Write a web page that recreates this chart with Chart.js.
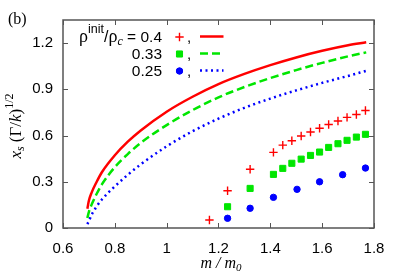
<!DOCTYPE html>
<html>
<head>
<meta charset="utf-8">
<script src="https://cdn.jsdelivr.net/npm/chart.js@4.4.1/dist/chart.umd.min.js"></script>
<style>
  body { margin: 0; background: #fff; }
  #wrap { width: 399px; height: 279px; }
</style>
</head>
<body>
<div id="wrap"><canvas id="plot" width="399" height="279"></canvas></div>
<script>
// tick labels
const xTicks = [0.6, 0.8, 1.0, 1.2, 1.4, 1.6, 1.8];
const yTicks = [0, 0.3, 0.6, 0.9, 1.2];

// continuous curves
const curveX     = [0.694, 0.70, 0.71, 0.73, 0.75, 0.80, 0.85, 0.90, 1.00, 1.10, 1.20, 1.30, 1.40, 1.50, 1.60, 1.70, 1.77];
const curveRed   = [0.125, 0.178, 0.228, 0.300, 0.362, 0.472, 0.560, 0.633, 0.755, 0.852, 0.934, 1.000, 1.057, 1.107, 1.150, 1.186, 1.205];
const curveGreen = [0.065, 0.105, 0.150, 0.222, 0.283, 0.395, 0.480, 0.552, 0.668, 0.765, 0.848, 0.915, 0.973, 1.025, 1.072, 1.114, 1.140];
const curveBlue  = [0.025, 0.045, 0.085, 0.140, 0.185, 0.270, 0.345, 0.413, 0.530, 0.628, 0.710, 0.780, 0.840, 0.893, 0.942, 0.987, 1.020];

// simulation points
const redX   = [1.165, 1.235, 1.322, 1.412, 1.448, 1.483, 1.519, 1.555, 1.590, 1.625, 1.661, 1.696, 1.732, 1.767];
const redY   = [0.052, 0.242, 0.381, 0.491, 0.538, 0.566, 0.597, 0.623, 0.647, 0.672, 0.694, 0.718, 0.737, 0.763];
const greenX = [1.235, 1.322, 1.412, 1.448, 1.483, 1.519, 1.555, 1.590, 1.625, 1.661, 1.696, 1.732, 1.767];
const greenY = [0.138, 0.257, 0.348, 0.387, 0.420, 0.447, 0.471, 0.493, 0.523, 0.547, 0.569, 0.590, 0.608];
const blueX  = [1.235, 1.322, 1.412, 1.503, 1.590, 1.679, 1.767];
const blueY  = [0.063, 0.128, 0.199, 0.251, 0.300, 0.346, 0.389];

const legendLabels = ['0.4', '0.33', '0.25'];

const RED = '#ff0000', GREEN = '#00e600', BLUE = '#0000ff';
const SANS = 'Liberation Sans', SERIF = 'Liberation Serif';

const pts = (xs, ys) => xs.map((x, i) => ({ x: x, y: ys[i] }));
const fmt = v => String(+(+v).toFixed(2));

const lineStyle = [
    { color: RED, dash: [] },
    { color: GREEN, dash: [8, 4] },
    { color: BLUE, dash: [2, 3.5] }
];
const markStyle = [
    { color: RED, style: 'cross', radius: 4.2, width: 1.4 },
    { color: GREEN, style: 'rect', radius: 4.3, width: 1 },
    { color: BLUE, style: 'circle', radius: 3.2, width: 1 }
];

const datasets = [];
[curveRed, curveGreen, curveBlue].forEach((ys, i) => {
    datasets.push({
        type: 'line',
        data: pts(curveX, ys),
        borderColor: lineStyle[i].color,
        borderDash: lineStyle[i].dash,
        borderWidth: 2.5,
        pointRadius: 0,
        cubicInterpolationMode: 'monotone',
        fill: false
    });
});
[[redX, redY], [greenX, greenY], [blueX, blueY]].forEach((d, i) => {
    const m = markStyle[i];
    datasets.push({
        type: 'scatter',
        data: pts(d[0], d[1]),
        pointStyle: m.style,
        pointRadius: m.radius,
        pointBorderWidth: m.width,
        borderColor: m.color,
        backgroundColor: m.color,
        showLine: false
    });
});

// draws a list of text runs starting at x, baseline y; returns width
function runs(ctx, parts, x, y, measureOnly) {
    let w = 0;
    parts.forEach(p => {
        ctx.font = p.f;
        if (!measureOnly) ctx.fillText(p.t, x + w, y + (p.dy || 0));
        w += ctx.measureText(p.t).width + (p.gap || 0);
    });
    return w;
}

const frame = {
    id: 'frame',
    afterDatasetsDraw(chart) {
        const ctx = chart.ctx, a = chart.chartArea;
        const xs = chart.scales.x, ys = chart.scales.y;
        const tl = 5;
        ctx.save();
        ctx.strokeStyle = '#555';
        ctx.lineWidth = 1.5;
        ctx.strokeRect(a.left, a.top, a.right - a.left, a.bottom - a.top);
        ctx.lineWidth = 1;
        ctx.beginPath();
        xTicks.forEach(v => {
            const px = Math.round(xs.getPixelForValue(v)) + 0.5;
            ctx.moveTo(px, a.bottom); ctx.lineTo(px, a.bottom - tl);
            ctx.moveTo(px, a.top); ctx.lineTo(px, a.top + tl);
        });
        yTicks.forEach(v => {
            const py = Math.round(ys.getPixelForValue(v)) + 0.5;
            ctx.moveTo(a.left, py); ctx.lineTo(a.left + tl, py);
            ctx.moveTo(a.right, py); ctx.lineTo(a.right - tl, py);
        });
        ctx.stroke();
        ctx.restore();
    },
    afterDraw(chart) {
        const ctx = chart.ctx;
        ctx.save();
        ctx.fillStyle = '#000';
        ctx.textBaseline = 'alphabetic';

        // panel label
        runs(ctx, [{ t: '(b)', f: '16px ' + SERIF }], 8, 24);

        // x title
        const xt = [
            { t: 'm / m', f: 'italic 16px ' + SERIF },
            { t: '0', f: 'italic 11px ' + SERIF, dy: 3 }
        ];
        const xw = runs(ctx, xt, 0, 0, true);
        runs(ctx, xt, 221 - xw / 2, 268);

        // y title, rotated
        const yt = [
            { t: 'x', f: 'italic 17px ' + SERIF },
            { t: 's', f: 'italic 12px ' + SERIF, dy: 3 },
            { t: ' (\u0393/', f: '17px ' + SERIF },
            { t: 'k', f: 'italic 17px ' + SERIF },
            { t: ')', f: '17px ' + SERIF },
            { t: '1/2', f: '12px ' + SERIF, dy: -8 }
        ];
        const yw = runs(ctx, yt, 0, 0, true);
        ctx.save();
        ctx.translate(21, 126);
        ctx.rotate(-Math.PI / 2);
        runs(ctx, yt, -yw / 2, 0);
        ctx.restore();

        // legend
        const rowY = [42, 59, 76];
        const textRight = 162;
        legendLabels.forEach((lab, i) => {
            let parts;
            if (i === 0) {
                parts = [
                    { t: '\u03c1', f: '18px ' + SERIF },
                    { t: 'init', f: '12.5px ' + SANS, dy: -9 },
                    { t: '/', f: '16px ' + SANS },
                    { t: '\u03c1', f: '18px ' + SERIF },
                    { t: 'c', f: 'italic 12px ' + SERIF, dy: 3 },
                    { t: ' = ' + lab, f: '15.5px ' + SANS }
                ];
            } else {
                parts = [{ t: lab, f: '15.5px ' + SANS }];
            }
            const w = runs(ctx, parts, 0, 0, true);
            runs(ctx, parts, textRight - w, rowY[i]);
            runs(ctx, [{ t: ',', f: '15px ' + SANS }], 187, rowY[i]);

            const cy = rowY[i] - 5;
            const m = markStyle[i];
            ctx.strokeStyle = m.color;
            ctx.fillStyle = m.color;
            ctx.lineWidth = m.width;
            Chart.helpers.drawPoint(ctx, {
                pointStyle: m.style, radius: m.radius, rotation: 0, borderWidth: m.width
            }, 179.5, cy);
            ctx.fill();

            ctx.beginPath();
            ctx.strokeStyle = lineStyle[i].color;
            ctx.setLineDash(lineStyle[i].dash);
            ctx.lineWidth = 2.5;
            ctx.moveTo(200, cy - 0.5);
            ctx.lineTo(223.5, cy - 0.5);
            ctx.stroke();
            ctx.setLineDash([]);
            ctx.fillStyle = '#000';
        });
        ctx.restore();
    }
};

new Chart(document.getElementById('plot').getContext('2d'), {
    type: 'scatter',
    data: { datasets: datasets },
    options: {
        responsive: false,
        animation: false,
        devicePixelRatio: 1,
        layout: { padding: { top: 20, right: 25, left: 0, bottom: 0 } },
        plugins: { legend: { display: false }, tooltip: { enabled: false } },
        scales: {
            x: {
                type: 'linear', min: 0.6, max: 1.8,
                afterBuildTicks: s => { s.ticks = xTicks.map(v => ({ value: v })); },
                afterFit: s => { s.height = 51; },
                grid: { display: false, drawTicks: false },
                border: { display: false },
                ticks: {
                    padding: 12, color: '#000', autoSkip: false, maxRotation: 0,
                    font: { family: SANS, size: 15 },
                    callback: v => fmt(v)
                }
            },
            y: {
                type: 'linear', min: 0, max: 1.35,
                afterBuildTicks: s => { s.ticks = yTicks.map(v => ({ value: v })); },
                afterFit: s => { s.width = 63; },
                grid: { display: false, drawTicks: false },
                border: { display: false },
                ticks: {
                    padding: 10, color: '#000', autoSkip: false,
                    font: { family: SANS, size: 15 },
                    callback: v => fmt(v)
                }
            }
        }
    },
    plugins: [frame]
});
</script>
</body>
</html>
